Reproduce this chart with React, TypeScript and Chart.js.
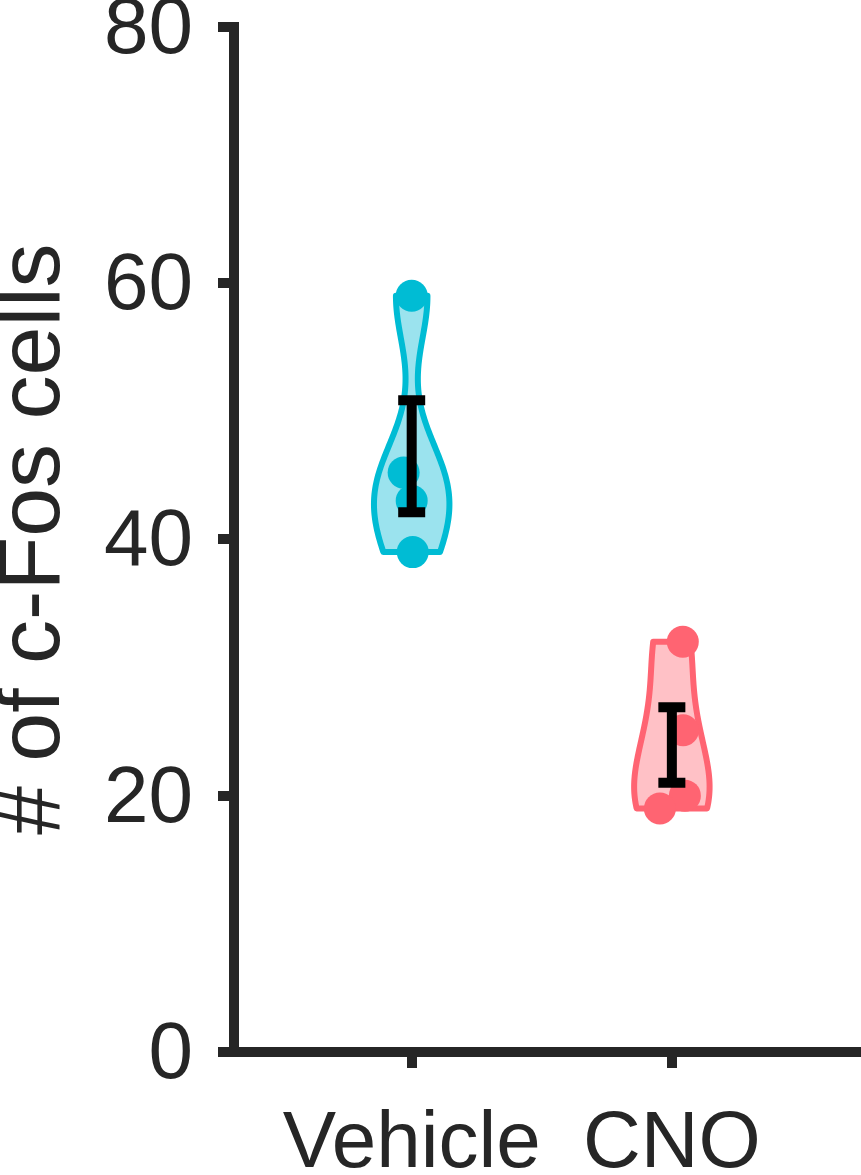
import React, { useEffect, useRef } from "react";
import { Chart, registerables } from "chart.js";

Chart.register(...registerables);

// ---- data ----
const categories = ["Vehicle", "CNO"];
const categoryPositions = [1, 2];
const vehicleValues = [59, 45.2, 43, 39];
const cnoValues = [32, 25.1, 20, 19];
const vehicleJitter = [0, -0.031, 0, 0.004];
const cnoJitter = [0.042, 0.043, 0.05, -0.046];
const errLow = [42.1, 21.0];
const errHigh = [50.85, 26.9];
const yTicks = [0, 20, 40, 60, 80];

const lineColors = ["#00BCD4", "#FF6472"];
const fillColors = ["#9BE3EE", "#FFC1C6"];
const axisColor = "#262626";
const FONT = "'Liberation Sans', Arial, Helvetica, sans-serif";

const groups = [vehicleValues, cnoValues];
const jitters = [vehicleJitter, cnoJitter];

function median(a: number[]) {
  const s = [...a].sort((p, q) => p - q);
  const m = Math.floor(s.length / 2);
  return s.length % 2 ? s[m] : (s[m - 1] + s[m]) / 2;
}
function bandwidth(vals: number[]) {
  const med = median(vals);
  const mad = median(vals.map((v) => Math.abs(v - med)));
  const sig = mad / 0.6745;
  return sig * Math.pow(4 / (3 * vals.length), 0.2);
}
function density(vals: number[], y: number, bw: number) {
  let s = 0;
  for (const v of vals) s += Math.exp(-0.5 * ((y - v) / bw) ** 2);
  return s;
}

const violinPlugin = {
  id: "violins",
  beforeDatasetsDraw(chart: any) {
    const { ctx, scales } = chart;
    const xs = scales.x;
    const ys = scales.y;
    const halfW = 0.145;
    groups.forEach((vals, gi) => {
      const bw = bandwidth(vals);
      const lo = Math.min(...vals);
      const hi = Math.max(...vals);
      const N = 120;
      const pts: { y: number; d: number }[] = [];
      for (let i = 0; i <= N; i++) {
        const y = lo + ((hi - lo) * i) / N;
        pts.push({ y, d: density(vals, y, bw) });
      }
      const maxD = Math.max(...pts.map((p) => p.d));
      const c = categoryPositions[gi];
      ctx.save();
      ctx.beginPath();
      pts.forEach((p, i) => {
        const x = xs.getPixelForValue(c - (p.d / maxD) * halfW);
        const y = ys.getPixelForValue(p.y);
        if (i === 0) ctx.moveTo(x, y);
        else ctx.lineTo(x, y);
      });
      for (let i = pts.length - 1; i >= 0; i--) {
        const p = pts[i];
        ctx.lineTo(xs.getPixelForValue(c + (p.d / maxD) * halfW), ys.getPixelForValue(p.y));
      }
      ctx.closePath();
      ctx.fillStyle = fillColors[gi];
      ctx.fill();
      ctx.lineWidth = 6;
      ctx.lineJoin = "round";
      ctx.strokeStyle = lineColors[gi];
      ctx.stroke();
      ctx.restore();
    });
  },
  afterDatasetsDraw(chart: any) {
    const { ctx, scales } = chart;
    const xs = scales.x;
    const ys = scales.y;
    categoryPositions.forEach((c, gi) => {
      const x = xs.getPixelForValue(c);
      const yT = ys.getPixelForValue(errHigh[gi]);
      const yB = ys.getPixelForValue(errLow[gi]);
      ctx.save();
      ctx.strokeStyle = "#000000";
      ctx.lineWidth = 10;
      ctx.lineCap = "butt";
      ctx.beginPath();
      ctx.moveTo(x, yT);
      ctx.lineTo(x, yB);
      ctx.moveTo(x - 13.5, yT);
      ctx.lineTo(x + 13.5, yT);
      ctx.moveTo(x - 13.5, yB);
      ctx.lineTo(x + 13.5, yB);
      ctx.stroke();
      ctx.restore();
    });
  },
};

export default function App() {
  const ref = useRef<HTMLCanvasElement | null>(null);
  useEffect(() => {
    document.body.style.margin = "0";
    if (!ref.current) return;
    const datasets = groups.map((vals, gi) => ({
      label: categories[gi],
      data: vals.map((v, i) => ({ x: categoryPositions[gi] + jitters[gi][i], y: v })),
      backgroundColor: lineColors[gi],
      borderWidth: 0,
      pointRadius: 16,
      pointHoverRadius: 16,
    }));
    const chart = new Chart(ref.current, {
      type: "scatter",
      data: { datasets },
      options: {
        animation: false,
        responsive: false,
        devicePixelRatio: 1,
        layout: { autoPadding: false, padding: { top: 26.5, left: 0, right: 0, bottom: 0 } },
        plugins: { legend: { display: false }, tooltip: { enabled: false } },
        scales: {
          x: {
            type: "linear",
            min: 0.317,
            max: 2.727,
            afterBuildTicks: (s: any) => {
              s.ticks = categoryPositions.map((v) => ({ value: v }));
            },
            afterFit: (s: any) => {
              s.height = 123;
              s.paddingLeft = 0;
              s.paddingRight = 0;
            },
            ticks: {
              autoSkip: false,
              maxRotation: 0,
              minRotation: 0,
              padding: 29,
              color: axisColor,
              font: { family: FONT, size: 80 },
              callback: (v: any) => {
                const i = categoryPositions.indexOf(Number(v));
                return i >= 0 ? categories[i] : "";
              },
            },
            grid: {
              drawOnChartArea: false,
              drawTicks: true,
              tickLength: 16,
              lineWidth: 10,
              color: axisColor,
            },
            border: { display: true, width: 10, color: axisColor },
          },
          y: {
            type: "linear",
            min: 0,
            max: 80,
            afterBuildTicks: (s: any) => {
              s.ticks = yTicks.map((v) => ({ value: v }));
            },
            afterFit: (s: any) => {
              s.width = 234;
              s.paddingTop = 0;
              s.paddingBottom = 0;
            },
            ticks: {
              padding: 25,
              labelOffset: 4,
              color: axisColor,
              font: { family: FONT, size: 80 },
            },
            grid: {
              drawOnChartArea: false,
              drawTicks: true,
              tickLength: 16,
              lineWidth: 10,
              color: axisColor,
            },
            border: { display: true, width: 10, color: axisColor },
            title: {
              display: true,
              text: "# of c-Fos cells",
              color: axisColor,
              padding: 0,
              font: { family: FONT, size: 88, lineHeight: 0.78 },
            },
          },
        },
      },
      plugins: [violinPlugin],
    });
    return () => chart.destroy();
  }, []);
  return (
    <div style={{ width: 861, height: 1175 }}>
      <canvas ref={ref} width={861} height={1175} style={{ display: "block", width: 861, height: 1175 }} />
    </div>
  );
}
